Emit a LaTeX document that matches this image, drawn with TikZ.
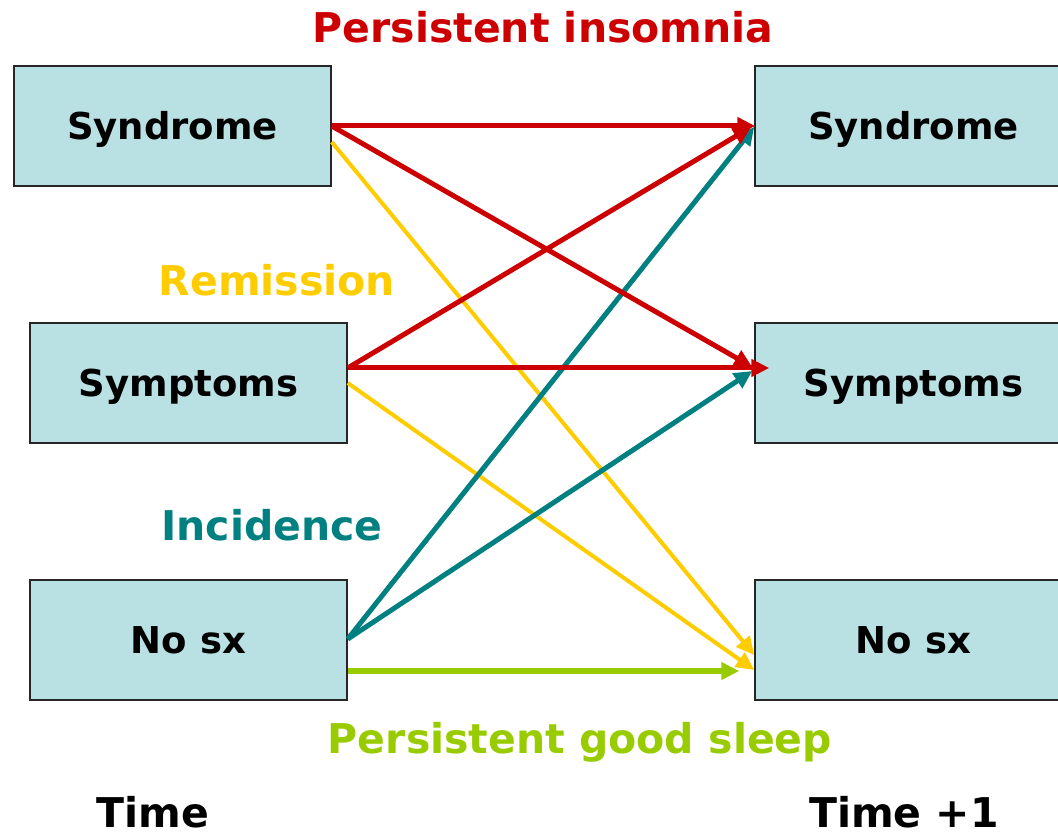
\documentclass[tikz,border=0pt]{standalone}
\usepackage{fontspec}
\setmainfont{DejaVu Sans}
\usetikzlibrary{arrows.meta}
\definecolor{boxfill}{HTML}{B9E0E3}
\definecolor{cred}{HTML}{CC0000}
\definecolor{cyel}{HTML}{FFCC00}
\definecolor{cteal}{HTML}{008080}
\definecolor{cgreen}{HTML}{99CC00}
\tikzset{
  statebox/.style={draw=black!85, line width=1.5pt, fill=boxfill, minimum width=317pt, minimum height=120pt, inner sep=0pt, text height=27pt, text depth=0pt, font=\fontsize{37}{40}\selectfont\bfseries},
  lbl/.style={anchor=base, inner sep=0pt, font=\fontsize{41}{44}\selectfont\bfseries},
  arr/.style={line width=5pt, -{Triangle[length=18pt,width=17pt]}},
}
\begin{document}
\begin{tikzpicture}[x=1pt,y=-1pt]
\useasboundingbox (0,0) rectangle (1058,834);
\clip (0,0) rectangle (1058,834);
% boxes
\node[statebox] (lsyn) at (172.5,126) {Syndrome};
\node[statebox] (lsym) at (188.5,383) {Symptoms};
\node[statebox] (lno)  at (188.5,640) {No sx};
\node[statebox] (rsyn) at (913.5,126) {Syndrome};
\node[statebox] (rsym) at (913.5,383) {Symptoms};
\node[statebox] (rno)  at (913.5,640) {No sx};
% labels
\node[lbl, text=cred] (tpi) at (543,43) {Persistent insomnia};
\node[lbl, text=cyel] (trem) at (277,296) {Remission};
\node[lbl, text=cteal] (tinc) at (272,540) {Incidence};
\node[lbl, text=cgreen] (tpgs) at (580,753) {Persistent good sleep};
\node[lbl, text=black] (tt0) at (153,827) {Time};
\node[lbl, text=black] (tt1) at (904,827) {Time +1};
% yellow (remission)
\draw[arr, line width=4pt, cyel] ([yshift=-16]lsyn.east) -- ([yshift=-15]rno.west);
\draw[arr, line width=4pt, cyel] ([yshift=0]lsym.east) -- ([yshift=-30]rno.west);
% green
\draw[arr, line width=5.5pt, cgreen] ([yshift=-31]lno.east) -- ([xshift=-15,yshift=-31]rno.west);
% teal (incidence)
\draw[arr, cteal] ([yshift=1]lno.east) -- ([yshift=-1]rsyn.west);
\draw[arr, cteal] ([yshift=1]lno.east) -- ([xshift=-2,yshift=12]rsym.west);
% red (persistent insomnia)
\draw[arr, cred] (lsyn.east) -- ([xshift=1]rsyn.west);
\draw[arr, cred] (lsyn.east) -- ([xshift=-2,yshift=16]rsym.west);
\draw[arr, cred] ([yshift=15]lsym.east) -- ([xshift=-3,yshift=-1]rsyn.west);
\draw[arr, cred] ([yshift=15]lsym.east) -- ([xshift=15,yshift=15]rsym.west);
\end{tikzpicture}
\end{document}
